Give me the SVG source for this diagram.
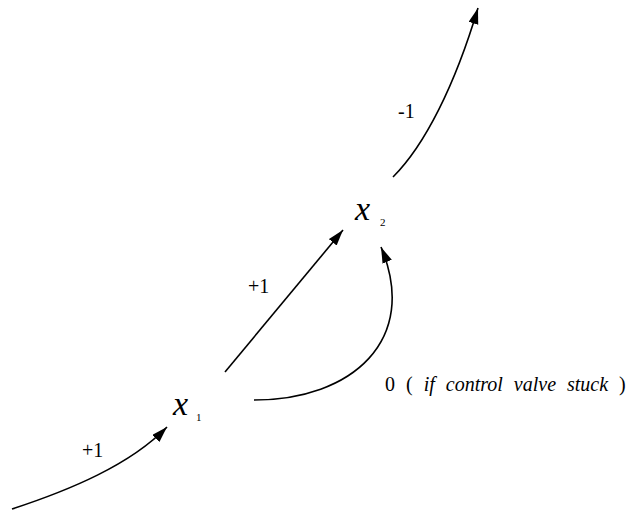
<svg xmlns="http://www.w3.org/2000/svg" width="638" height="514" viewBox="0 0 638 514">
<defs>
<style>
.c{fill:none;stroke:#000;stroke-width:1.6}
text{font-family:'Liberation Serif','Times New Roman',serif;fill:#000}
.v{font-style:italic;font-size:34px}
.s{font-size:11px}
.l{font-size:20px}
</style>
<marker id="ah" markerUnits="userSpaceOnUse" markerWidth="18" markerHeight="12" refX="16" refY="5" orient="auto">
<path d="M0,0 L16,5 L0,10 z" fill="#000"/>
</marker>
</defs>
<rect width="638" height="514" fill="#fff"/>
<g id="connectors">
<path class="c" d="M12,509 C70,490 130,465 167,427" marker-end="url(#ah)"/>
<path class="c" d="M225,372 L343,230" marker-end="url(#ah)"/>
<path class="c" d="M254,400 C352,400 420,340 381,247" marker-end="url(#ah)"/>
<path class="c" d="M393,177 C425,145 455,85 478,8" marker-end="url(#ah)"/>
</g>
<g id="x1"><text class="v" x="173" y="415">x</text><text class="s" x="196" y="421">1</text></g>
<g id="x2"><text class="v" x="355" y="220">x</text><text class="s" x="380" y="226">2</text></g>
<g id="labels">
<text class="l" x="82" y="457">+1</text>
<text class="l" x="248" y="293">+1</text>
<text class="l" x="398" y="118">-1</text>
<text class="l" x="385" y="391" word-spacing="6">0 ( <tspan font-style="italic">if control valve stuck</tspan> )</text>
</g>
</svg>
